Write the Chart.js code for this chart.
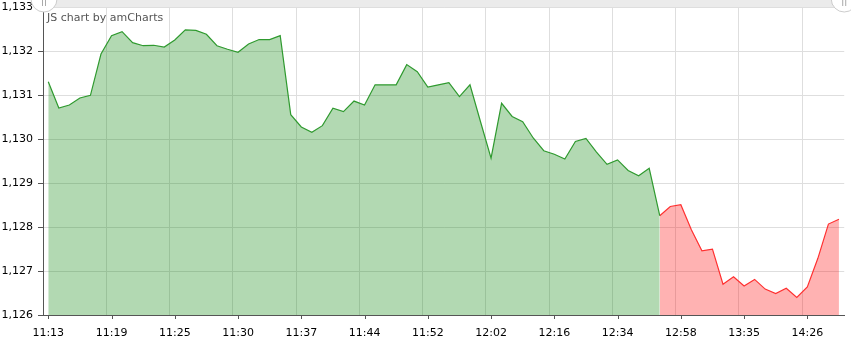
<!DOCTYPE html>
<html>
<head>
<meta charset="utf-8">
<title>Price chart</title>
<script src="https://cdn.jsdelivr.net/npm/chart.js@4.4.1/dist/chart.umd.min.js"></script>
<style>
  html, body { margin: 0; padding: 0; background: #fff; }
  #price-chart { display: block; }
</style>
</head>
<body>
<canvas id="price-chart" width="851" height="341"></canvas>
<script>
// Price series, one value per category
const values = [
  1.13131, 1.13071, 1.13078, 1.13094, 1.13100, 1.13194, 1.13236, 1.13245, 1.13220, 1.13213,
  1.13214, 1.13210, 1.13226, 1.13249, 1.13248, 1.13239, 1.13213, 1.13205, 1.13198, 1.13217,
  1.13227, 1.13227, 1.13236, 1.13056, 1.13028, 1.13016, 1.13031, 1.13071, 1.13063, 1.13087,
  1.13078, 1.13124, 1.13124, 1.13124, 1.13170, 1.13154, 1.13119, 1.13124, 1.13129, 1.13097,
  1.13124, 1.13040, 1.12957, 1.13082, 1.13052, 1.13040, 1.13003, 1.12974, 1.12966, 1.12955,
  1.12995, 1.13002, 1.12971, 1.12943, 1.12953, 1.12929, 1.12917, 1.12934, 1.12826, 1.12847,
  1.12851, 1.12794, 1.12746, 1.12750, 1.12670, 1.12687, 1.12666, 1.12681, 1.12659, 1.12649,
  1.12661, 1.12640, 1.12664, 1.12729, 1.12807, 1.12818
];

// Time labels shown under every 6th category
const tickLabels = [
  '11:13', '11:19', '11:25', '11:30', '11:37', '11:44', '11:52',
  '12:02', '12:16', '12:34', '12:58', '13:35', '14:26'
];
const labelEvery = 6;

// From this category on the series is drawn in red
const splitIndex = 58;

const yMin = 1.126;
const yMax = 1.133;
const yStep = 0.001;

const colors = {
  upLine: '#2f9a2f',
  upFill: 'rgba(0, 128, 0, 0.3)',
  downLine: '#ff3030',
  downFill: 'rgba(255, 0, 0, 0.3)',
  grid: '#dedede',
  axis: '#555555',
  text: '#000000',
  credit: '#555555',
  scrollbar: '#ebebeb',
  grip: '#cccccc'
};

const fontFamily = "'DejaVu Sans', Verdana, sans-serif";

/**
 * amCharts-style extras: scrollbar strip, x tick marks, credit text
 */
const amDecor = {
  id: 'amDecor',
  afterDraw(chart) {
    const { ctx, chartArea } = chart;
    const x = chart.scales.x;

    ctx.save();

    // tick marks sit under the labels, not under the grid lines
    ctx.strokeStyle = colors.axis;
    ctx.lineWidth = 1;
    ctx.beginPath();
    for (let i = 0; i < values.length; i += labelEvery) {
      const px = Math.round(x.getPixelForValue(i)) + 0.5;
      ctx.moveTo(px, chartArea.bottom);
      ctx.lineTo(px, chartArea.bottom + 4);
    }
    ctx.stroke();

    // credit
    ctx.font = '11px ' + fontFamily;
    ctx.fillStyle = colors.credit;
    ctx.textBaseline = 'middle';
    ctx.fillText('JS chart by amCharts', chartArea.left + 4, chartArea.top + 11);

    // scrollbar strip + grips
    ctx.fillStyle = colors.scrollbar;
    ctx.fillRect(chartArea.left, 0, chart.width - chartArea.left, 7);
    [chartArea.left + 1, chartArea.right].forEach(cx => {
      ctx.beginPath();
      ctx.arc(cx, -1, 13, 0, Math.PI * 2);
      ctx.fillStyle = '#ffffff';
      ctx.fill();
      ctx.strokeStyle = colors.grip;
      ctx.stroke();
      ctx.strokeStyle = '#aaaaaa';
      ctx.beginPath();
      ctx.moveTo(cx - 1.5, 0); ctx.lineTo(cx - 1.5, 6);
      ctx.moveTo(cx + 1.5, 0); ctx.lineTo(cx + 1.5, 6);
      ctx.stroke();
    });

    ctx.restore();
  }
};

const labels = values.map((v, i) => i);
const upData = values.map((v, i) => (i <= splitIndex ? v : null));
const downData = values.map((v, i) => (i >= splitIndex ? v : null));

Chart.defaults.font.family = fontFamily;
Chart.defaults.font.size = 11;
Chart.defaults.color = colors.text;

new Chart(document.getElementById('price-chart'), {
  type: 'line',
  data: {
    labels: labels,
    datasets: [
      {
        data: upData,
        borderColor: colors.upLine,
        backgroundColor: colors.upFill,
        borderWidth: 1.2,
        fill: 'start',
        pointRadius: 0,
        tension: 0,
        spanGaps: false
      },
      {
        data: downData,
        borderColor: colors.downLine,
        backgroundColor: colors.downFill,
        borderWidth: 1.2,
        fill: 'start',
        pointRadius: 0,
        tension: 0,
        spanGaps: false
      }
    ]
  },
  options: {
    responsive: false,
    animation: false,
    layout: { padding: { top: 1, right: 6, left: 0, bottom: 0 } },
    plugins: {
      legend: { display: false },
      tooltip: { enabled: false }
    },
    scales: {
      x: {
        type: 'category',
        offset: true,
        grid: {
          offset: true,
          drawTicks: false,
          color: (c) => (c.index % labelEvery === 0 ? colors.grid : 'transparent')
        },
        border: { color: colors.axis, width: 1 },
        ticks: {
          autoSkip: false,
          maxRotation: 0,
          minRotation: 0,
          padding: 12,
          color: colors.text,
          callback: (value, index) =>
            index % labelEvery === 0 ? tickLabels[index / labelEvery] : ''
        },
        afterFit: (scale) => { scale.height = 26; }
      },
      y: {
        min: yMin,
        max: yMax,
        grid: {
          color: colors.grid,
          tickColor: colors.axis,
          tickLength: 5
        },
        border: { color: colors.axis, width: 1 },
        ticks: {
          stepSize: yStep,
          padding: 5,
          color: colors.text,
          callback: (value) => value.toFixed(3).replace('.', ',')
        },
        afterFit: (scale) => {
          scale.width = 43;
          scale.paddingTop = 7.5;
        }
      }
    }
  },
  plugins: [amDecor]
});
</script>
</body>
</html>
